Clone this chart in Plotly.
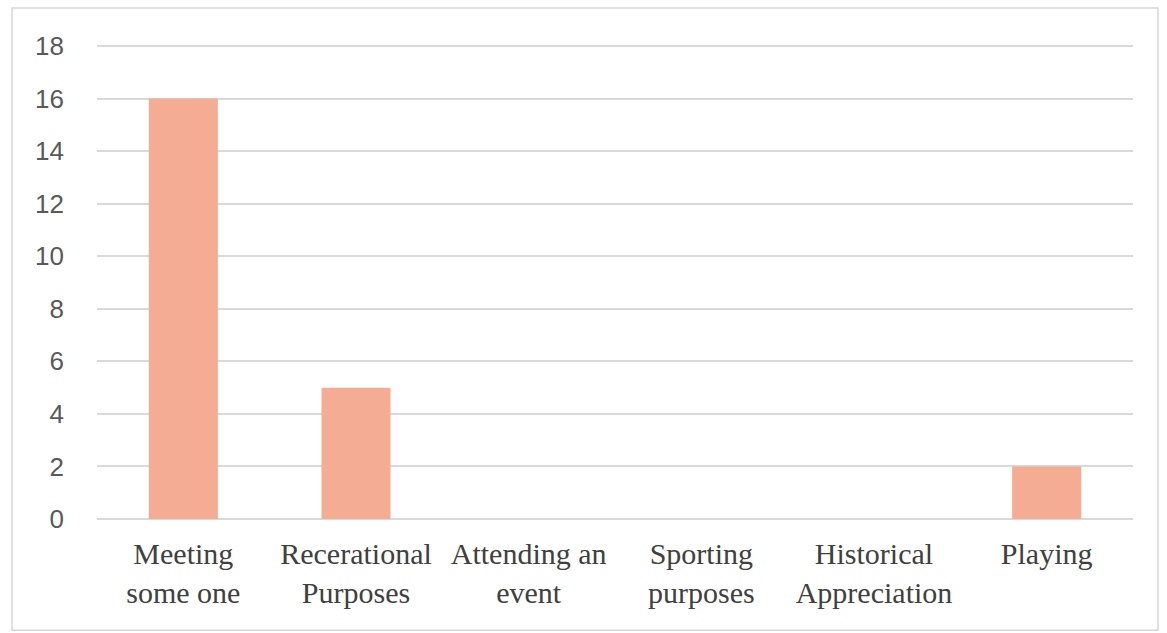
import plotly.graph_objects as go

categories = ["Meeting<br>some one", "Recerational<br>Purposes", "Attending an<br>event",
              "Sporting<br>purposes", "Historical<br>Appreciation", "Playing"]
values = [16, 5, 0, 0, 0, 2]
y_ticks = [0, 2, 4, 6, 8, 10, 12, 14, 16, 18]

W, H = 1167, 633
L, R, T, B = 97, 34, 46, 114
pw, ph = W - L - R, H - T - B

fig = go.Figure(go.Bar(
    x=categories, y=values,
    marker=dict(color="#F4AC94", line=dict(width=0)),
    width=0.4,
))

fig.add_shape(type="rect", xref="paper", yref="paper",
              x0=(12 - L) / pw, x1=(1158 - L) / pw,
              y0=(H - B - 630) / ph, y1=(H - B - 9) / ph,
              line=dict(color="#D6D6D6", width=1.5), fillcolor="rgba(0,0,0,0)", layer="below")

fig.update_layout(
    width=W, height=H,
    margin=dict(l=L, r=R, t=T - 1, b=B),
    paper_bgcolor="white", plot_bgcolor="white",
    showlegend=False,
    bargap=0.6,
)
fig.update_xaxes(
    tickfont=dict(family="Liberation Serif", size=30, color="#404040"),
    showgrid=False, showline=False, ticks="", ticklabelstandoff=14,
)
fig.update_yaxes(
    range=[0, 18.04], tickvals=y_ticks,
    tickfont=dict(family="Liberation Sans", size=26, color="#595959"),
    showgrid=True, gridcolor="#D9D9D9", gridwidth=2,
    zeroline=True, zerolinecolor="#D9D9D9", zerolinewidth=2,
    showline=False, ticks="", ticklabelstandoff=32,
)
fig.write_html("out.html")
